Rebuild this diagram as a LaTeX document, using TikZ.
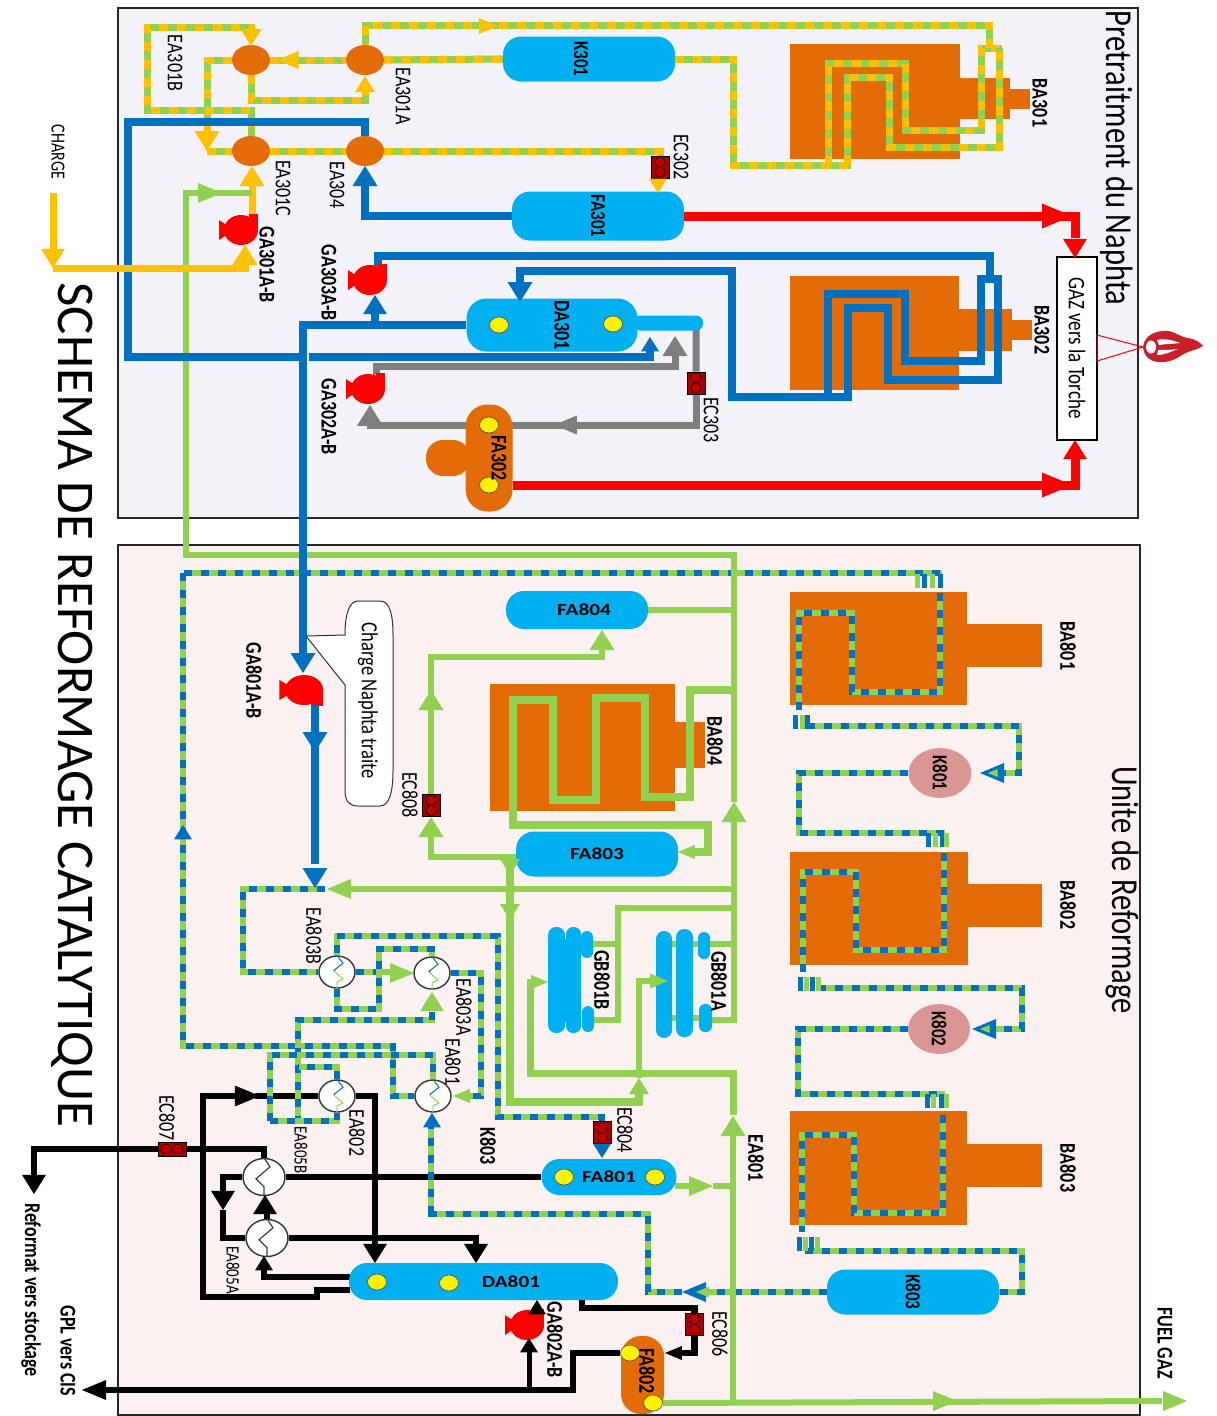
\documentclass[tikz,border=0pt]{standalone}
\usepackage{fontspec}
\setmainfont{Carlito}
\usetikzlibrary{shapes.geometric,backgrounds}
\definecolor{pblue}{HTML}{0070C0}
\definecolor{pcyan}{HTML}{00B0F0}
\definecolor{pgreen}{HTML}{92D050}
\definecolor{pyellow}{HTML}{FFC000}
\definecolor{furnace}{HTML}{E36C09}
\definecolor{ecred}{HTML}{A80000}
\definecolor{pgray}{HTML}{7F7F7F}
\definecolor{kpink}{HTML}{D99694}
\definecolor{flamered}{HTML}{C8202A}
\definecolor{paneltop}{HTML}{F4F2F9}
\definecolor{panelbot}{HTML}{FAF1F0}
\newcommand{\vlbl}[1]{\rotatebox{-90}{\scalebox{1}[1.25]{#1}}}
\newcommand{\hlbl}[1]{\scalebox{1.25}[1]{#1}}
\newcommand{\tipat}[5]{\fill[#4,shift={(#1,#2)},rotate=#3] (0,0) -- ({-(0.8*abs(sin(#3))+1.2*abs(cos(#3)))*#5},0.5*#5) -- ({-(0.8*abs(sin(#3))+1.2*abs(cos(#3)))*#5},-0.5*#5) -- cycle;}
\tikzset{
    lbl/.style={inner sep=0pt,font=\fontsize{18}{18}\selectfont},
    lblb/.style={inner sep=0pt,font=\bfseries\fontsize{18}{18}\selectfont},
    vessel/.style={fill=pcyan,rectangle,rounded corners=18pt,inner sep=0pt,font=\bfseries\fontsize{17}{17}\selectfont},
    drum/.style={fill=furnace,ellipse,minimum width=38,minimum height=30,inner sep=0pt},
    ydot/.style={fill=yellow,draw=black!70,line width=.6pt,ellipse,minimum width=19,minimum height=16,inner sep=0pt},
    hx/.style={fill=white,draw=black!80,line width=1.4pt,ellipse,minimum width=36,minimum height=32,inner sep=0pt},
    hxbig/.style={hx,minimum width=42,minimum height=37},
    ecbox/.style={fill=ecred,draw=black,line width=.8pt,rectangle,minimum width=18,minimum height=22,inner sep=0pt},
    pipeY/.style={draw=pgreen,line width=7pt,postaction={draw=pyellow,dash pattern=on 9pt off 9pt}},
    pipeB/.style={draw=pgreen,line width=6.5pt,postaction={draw=pblue,dash pattern=on 8pt off 9pt}},
    pipeG/.style={draw=pgreen,line width=6pt},
    pipeL/.style={draw=pblue,line width=8pt},
    pipeK/.style={draw=black,line width=6.5pt},
    pipeA/.style={draw=pgray,line width=7pt},
    pipeR/.style={draw=red,line width=9pt},
    pipeO/.style={draw=pyellow,line width=7pt},
    pumpbody/.pic={
        \fill[red] (-21,-10) -- (-12,-4) -- (-12,4) -- (-21,10) -- cycle;
        \fill[red] (1,0) ellipse (17 and 15);
        \fill[red] (9,-16) rectangle (18,1);
    }
}
\begin{document}
\begin{tikzpicture}[x=1pt,y=-1pt]
    \useasboundingbox (0,0) rectangle (1216,1416);
    % panels and furnaces
    \begin{scope}[on background layer]
        \filldraw[fill=paneltop,draw=black!85,line width=2pt] (118,8) rectangle (1138,518);
        \filldraw[fill=panelbot,draw=black!85,line width=2pt] (118,545) rectangle (1140,1415);
        \fill[furnace] (790,44) rectangle (960,159);
        \fill[furnace] (960,78) rectangle (1010,119);
        \fill[furnace] (1010,89) rectangle (1030,109);
        \fill[furnace] (790,276) rectangle (959,390);
        \fill[furnace] (959,309) rectangle (1012,351);
        \fill[furnace] (1012,320) rectangle (1032,340);
        \fill[furnace] (790,592) rectangle (967,705);
        \fill[furnace] (967,624) rectangle (1042,667);
        \fill[furnace] (790,852) rectangle (968,965);
        \fill[furnace] (968,884) rectangle (1042,927);
        \fill[furnace] (790,1111) rectangle (967,1225);
        \fill[furnace] (967,1144) rectangle (1042,1187);
        \fill[furnace] (490,684) rectangle (675,811);
        \fill[furnace] (675,722) rectangle (705,768);
    \end{scope}
    % drums and vessels
    \node[drum] (EA301B) at (251,60) {};
    \node[drum] (EA301A) at (365,60) {};
    \node[drum] (EA301C) at (251,151) {};
    \node[drum] (EA304) at (365,151) {};
    \node[vessel,minimum width=172,minimum height=45] (K301) at (589,59) {\hspace{-16pt}\vlbl{K301}};
    \node[vessel,minimum width=172,minimum height=49] (FA301) at (598,216) {\vlbl{FA301}};
    \node[vessel,rounded corners=7pt,minimum width=70,minimum height=15] (DA301tail) at (668,323) {};
    \node[vessel,rounded corners=20pt,minimum width=171,minimum height=53] (DA301) at (552,325) {};
    \node[lblb] (lblDA301) at (562,325) {\vlbl{DA301}};
    \node[ydot] (DA301a) at (499,325) {};
    \node[ydot] (DA301b) at (613,324) {};
    \fill[furnace,rounded corners=17pt] (470,440) rectangle (426,476);
    \node[fill=furnace,rectangle,rounded corners=22pt,minimum width=47,minimum height=107,inner sep=0pt] (FA302) at (489,458) {};
    \node[ydot] (FA302a) at (489,425) {};
    \node[ydot] (FA302b) at (489,485) {};
    \node[lblb] (lblFA302) at (499,458) {\vlbl{FA302}};
    \node[fill=white,draw=black,line width=2pt,rectangle,minimum width=40,minimum height=183,inner sep=0pt,font=\fontsize{19}{19}\selectfont] (GAZ) at (1077,348) {\vlbl{GAZ vers la Torche}};
    \node[vessel,minimum width=142,minimum height=38] (FA804) at (577,610) {\hspace{14pt}\hlbl{FA804}};
    \node[vessel,minimum width=162,minimum height=45] (FA803) at (597,854) {\hlbl{FA803}\hspace{6pt}};
    \node[vessel,minimum width=135,minimum height=36] (FA801) at (609,1177) {\hlbl{FA801}};
    \node[ydot] (FA801a) at (564,1177) {};
    \node[ydot] (FA801b) at (655,1177) {};
    \node[vessel,minimum width=269,minimum height=37] (DA801) at (483.5,1281.5) {\hspace{55pt}\hlbl{DA801}};
    \node[ydot] (DA801a) at (377,1282) {};
    \node[ydot] (DA801b) at (449,1283) {};
    \node[fill=furnace,rectangle,rounded corners=20pt,minimum width=43,minimum height=78,inner sep=0pt] (FA802) at (642.5,1375) {};
    \node[ydot] (FA802a) at (630,1353) {};
    \node[ydot] (FA802b) at (653,1403) {};
    \node[lblb] (lblFA802) at (647,1371) {\vlbl{FA802}};
    \node[fill=kpink,ellipse,minimum width=63,minimum height=46,inner sep=0pt,font=\bfseries\fontsize{17}{17}\selectfont] (K801) at (940,773) {\vlbl{K801}};
    \node[fill=kpink,ellipse,minimum width=62,minimum height=46,inner sep=0pt,font=\bfseries\fontsize{17}{17}\selectfont] (K802) at (939,1029) {\vlbl{K802}};
    \node[vessel,minimum width=172,minimum height=45] (K803) at (913,1292) {\vlbl{K803}};
    % air coolers
    \node[vessel,rounded corners=8pt,minimum width=17,minimum height=106] (GBb1) at (556.5,980) {};
    \node[vessel,rounded corners=7pt,minimum width=15,minimum height=106] (GBb2) at (573.5,980) {};
    \fill[pcyan] (548,939) rectangle (581,1022);
    \node[vessel,rounded corners=6pt,minimum width=12,minimum height=27] (GBb3) at (587,944.5) {};
    \node[vessel,rounded corners=6pt,minimum width=12,minimum height=26] (GBb4) at (588,1019) {};
    \node[vessel,rounded corners=8pt,minimum width=16,minimum height=107] (GBa1) at (664,984.5) {};
    \node[vessel,rounded corners=8pt,minimum width=17,minimum height=108] (GBa2) at (684.5,983) {};
    \node[vessel,rounded corners=6pt,minimum width=12,minimum height=27] (GBa3) at (704,945.5) {};
    \node[vessel,rounded corners=6pt,minimum width=13,minimum height=28] (GBa4) at (705.5,1018) {};
    % valves
    \node[ecbox] (EC302) at (660,167) {};
    \node[ecbox] (EC303) at (696,383) {};
    \node[ecbox] (EC808) at (431,805.5) {};
    \node[ecbox] (EC804) at (602,1132.5) {};
    \node[ecbox] (EC806) at (694.5,1324) {};
    \node[ecbox,minimum width=28,minimum height=14] (EC807) at (172,1149) {};
    \foreach \valve in {EC302,EC303,EC808,EC804,EC806} {
        \draw[fill=red!75!black,draw=black] (\valve.center) ++(0,-5) circle (5);
        \draw[fill=red!75!black,draw=black] (\valve.center) ++(0,5) circle (5);
    }
    \draw[fill=red!75!black,draw=black] (EC807.center) ++(-6,0) circle (5);
    \draw[fill=red!75!black,draw=black] (EC807.center) ++(6,0) circle (5);
    % exchangers
    \node[hx] (hxEA803B) at (337,972) {};
    \node[hx] (hxEA803A) at (432,973) {};
    \node[hx] (hxEA802) at (337,1096) {};
    \node[hx] (hxEA801) at (433,1096) {};
    \node[hxbig] (hxEA805B) at (264,1177) {};
    \node[hxbig] (hxEA805A) at (267,1238) {};
    \foreach \hxname in {hxEA803B,hxEA803A,hxEA802,hxEA801} {
        \draw[pblue,line width=1pt] (\hxname.north) -- ++(6,8) -- ++(-9,7) -- ++(1,1);
        \draw[pgreen,line width=1pt] (\hxname.center) ++(-2,0) -- ++(8,7) -- ++(-6,3) -- (\hxname.south);
    }
    \foreach \hxname in {hxEA805B,hxEA805A} {
        \draw[black!75,line width=1.2pt] (\hxname.north) -- ++(6,9) -- ++(-14,12) -- ++(8,8) -- (\hxname.south);
    }
    % yellow pipes
    \begin{scope}[on background layer]
        \draw[pipeY] (EA301A.east) -- (K301.west);
        \draw[pipeY] (K301.east) -- (733,59) -- (733,165) -- (851,165);
        \draw[pipeY] (828,165) -- (828,63) -- (905,63) -- (905,130) -- (981,130) -- (981,48) -- (1002,48);
        \draw[pipeY] (847,165) -- (847,77) -- (889,77) -- (889,147) -- (999,147) -- (999,48);
        \draw[pipeY] (989,48) -- (989,25) -- (365,25) -- (EA301A.north);
        \draw[pipeY] (EA301B.east) -- (EA301A.west);
        \draw[pipeY] (EA301B.west) -- (207,60) -- (207,131);
        \draw[pipeY] (207,151) -- (EA301C.west);
        \draw[pipeY] (EA301C.east) -- (EA304.west);
        \draw[pipeY] (EA304.east) -- (660,151) -- (EC302.north);
        \draw[pipeY] (251,34) -- (251,27) -- (147,27) -- (147,110) -- (251,110) -- (EA301C.north);
        \draw[pipeY] (EA301B.south) -- (251,100) -- (365,100) -- (365,91);
        % dashed blue pipes
        \draw[pipeB] (184,573) -- (942,573);
        \draw[pipeB] (183,573) -- (183,1046) -- (393,1046) -- (393,1096) -- (hxEA801.west);
        \draw[pipeB] (940,593) -- (940,692) -- (852,692) -- (852,613) -- (799,613) -- (799,710);
        \draw[pipeB] (807,726) -- (1019,726) -- (1019,773) -- (997,773);
        \draw[pipeB] (K801.west) -- (799,773) -- (799,833) -- (945,833);
        \draw[pipeB] (944,853) -- (944,950) -- (856,950) -- (856,872) -- (803,872) -- (803,972);
        \draw[pipeB] (818,988) -- (1022,988) -- (1022,1029) -- (995,1029);
        \draw[pipeB] (K802.west) -- (798,1029) -- (798,1094) -- (945,1094);
        \draw[pipeB] (943,1115) -- (943,1213) -- (854,1213) -- (854,1135) -- (802,1135) -- (802,1232);
        \draw[pipeB] (805,1251) -- (1022,1251) -- (1022,1292) -- (K803.east);
        \draw[pipeB] (K803.west) -- (700,1292);
        \draw[pipeB] (682,1292) -- (648,1292) -- (648,1214) -- (431,1214) -- (431,1127);
        \foreach \stubx/\stuby/\stubc in {917/574/pgreen,924/574/pblue,932/574/pgreen,940/574/pblue,
                795/715/pblue,802/715/pgreen,807/715/pblue,
                928/833/pblue,935/833/pgreen,942/833/pblue,946/833/pgreen,
                800/977/pblue,806/977/pgreen,812/977/pblue,818/977/pgreen,
                927/1094/pblue,933/1094/pgreen,941/1094/pblue,946/1094/pgreen,
                799/1237/pblue,805/1237/pgreen,811/1237/pblue,817/1237/pgreen} {
            \draw[\stubc,line width=5pt] (\stubx,\stuby) -- ++(0,14);
        }
        \draw[pipeB] (EC804.north) -- (602,1117) -- (498,1117) -- (498,936) -- (337,936) -- (hxEA803B.north);
        \draw[pipeB] (EC804.south) -- (602,1146);
        \draw[pipeB] (325,889) -- (243,889) -- (243,972) -- (hxEA803B.west);
        \draw[pipeB] (hxEA803B.east) -- (392,972);
        \draw[pipeB] (hxEA803B.south) -- (337,1009) -- (379,1009) -- (379,949) -- (432,949) -- (hxEA803A.north);
        \draw[pipeB] (hxEA803A.east) -- (481,973) -- (481,1096) -- (470,1096);
        % black pipes
        \draw[pipeK] (350,1290) -- (317,1290) -- (317,1297) -- (203,1297) -- (203,1096) -- (237,1096);
        \draw[pipeK] (255,1096) -- (hxEA802.west);
        \draw[pipeK] (hxEA802.east) -- (375,1096) -- (375,1246);
        \draw[pipeK] (hxEA805B.east) -- (FA801.west);
        \draw[pipeK] (hxEA805A.east) -- (476,1238) -- (476,1246);
        \draw[pipeK] (hxEA805B.north) -- (264,1149) -- (EC807.east);
        \draw[pipeK] (EC807.west) -- (34,1149) -- (34,1176);
        \draw[pipeK] (hxEA805B.west) -- (223,1177) -- (223,1194);
        \draw[pipeK] (223,1210) -- (223,1238) -- (hxEA805A.west);
        \draw[pipeK] (hxEA805A.north) -- (267,1212);
        \draw[pipeK] (264,1269) -- (264,1277) -- (350,1277);
        \draw[pipeK] (582,1300) -- (582,1308) -- (694.5,1308) -- (EC806.north);
        \draw[pipeK] (EC806.south) -- (694.5,1353) -- (677,1353);
        \draw[pipeK] (FA802a.west) -- (573,1353) -- (573,1390) -- (106,1390);
        \draw[pipeK,line width=5pt] (529,1390) -- (529,1350);
        % dashed pipes over the black ones
        \draw[pipeB] (432,1012) -- (432,1020) -- (298,1020) -- (298,1120);
        \draw[pipeB] (270,1121) -- (337,1121) -- (hxEA802.south);
        \draw[pipeB] (270,1121) -- (270,1055) -- (433,1055) -- (hxEA801.north);
        \draw[pipeB] (hxEA802.north) -- (337,1067) -- (298,1067);
        \draw[pipeB] (431,1214) -- (431,1127);
        % green pipes
        \draw[pipeG] (247,193) -- (186,193) -- (186,555) -- (734,555) -- (734,802);
        \draw[pipeG] (FA804.east) -- (734,610);
        \draw[pipeG] (FA803.west) ++(0,3) -- (431,857) -- (431,835);
        \draw[pipeG] (EC808.north) -- (431,657) -- (602,657) -- (602,649);
        \draw[pipeG,line width=8pt] (695,852) -- (708,852) -- (708,825) -- (513,825) -- (513,700) -- (553,700) -- (553,800) -- (596,800) -- (596,698) -- (645,698) -- (645,797) -- (690,797) -- (690,690) -- (734,690);
        \draw[pipeG] (734,889) -- (344,889);
        \draw[pipeG,line width=8pt] (510,857) -- (510,1102) -- (639,1102) -- (639,1091);
        \draw[pipeG] (639,1078) -- (639,981) -- (650,981);
        \draw[pipeG] (734,908) -- (618,908) -- (618,1020) -- (593,1020);
        \draw[pipeG] (618,944) -- (593,944);
        \draw[pipeG] (734,818) -- (734,1020) -- (712,1020);
        \draw[pipeG] (734,944) -- (710,944);
        \draw[pipeG] (698,944) -- (672,944);
        \draw[pipeG] (699,1018) -- (672,1018);
        \draw[pipeG,line width=7pt] (733,1115) -- (733,1073) -- (530,1073) -- (530,982) -- (533,982);
        \draw[pipeG] (733,1135) -- (733,1402);
        \draw[pipeG] (FA802b.east) -- (1162,1401);
        \draw[pipeG] (FA801.east) ++(-2,9) -- (692,1186);
        \draw[pipeG] (713,1186) -- (733,1186);
        % blue pipes
        \draw[pipeL] (EA304.north) -- (365,122) -- (128,122) -- (128,357) -- (299,357);
        \draw[pipeL] (309,357) -- (650,357) -- (650,351);
        \draw[pipeL] (FA301.west) -- (365,216) -- (365,185);
        \draw[pipeL] (DA301.west) -- (303,325) -- (303,656);
        \draw[pipeL] (375,325) -- (375,314);
        \draw[pipeL] (378,266) -- (378,256) -- (990,256) -- (990,280);
        \draw[pipeL] (520,282) -- (520,271) -- (732,271) -- (732,397) -- (848,397) -- (848,308) -- (888,308) -- (888,380) -- (998,380) -- (998,279) -- (981,279) -- (981,361) -- (905,361) -- (905,294) -- (828,294) -- (828,397);
        \draw[pipeL] (315,700) -- (315,864);
        % gray pipes
        \draw[pipeA] (DA301tail.east) ++(-7,0) -- (EC303.north);
        \draw[pipeA] (EC303.south) -- (696,425) -- (370,425) -- (370,414);
        \draw[pipeA] (376,375) -- (376,366) -- (675,366) -- (675,355);
        % red pipes
        \draw[pipeR] (FA301.east) -- (1075,216) -- (1075,238);
        \draw[pipeR] (FA302.east |- FA302b) -- (1075,485) -- (1075,459);
        % charge
        \draw[pipeO] (53,193) -- (53,250);
        \draw[pipeO] (53,268) -- (245,268) -- (245,262);
        \draw[pipeO] (252,214) -- (252,186);
        \draw[pipeG] (252,193) -- (247,193);
    \end{scope}
    % pumps
    \coordinate (GA301) at (240,230);
    \coordinate (GA303) at (369,280);
    \coordinate (GA302) at (367,389);
    \coordinate (GA801) at (303,690);
    \coordinate (GA802) at (526,1325);
    \pic at (GA301) {pumpbody};
    \pic at (GA303) {pumpbody};
    \pic at (GA302) {pumpbody};
    \pic[yscale=-1,xscale=1.12] at (GA801) {pumpbody};
    \pic at (GA802) {pumpbody};
    % arrow heads, top
    \tipat{251}{46}{-90}{pyellow}{21}
    \tipat{365}{76}{90}{pyellow}{20}
    \tipat{277}{60}{180}{pyellow}{18}
    \tipat{207}{151}{-90}{pyellow}{25}
    \tipat{498}{26}{0}{pyellow}{16}
    \tipat{658}{193}{-90}{pyellow}{18}
    \tipat{252}{166}{90}{pyellow}{25}
    \tipat{245}{245}{90}{pyellow}{25}
    \tipat{53}{268}{-90}{pyellow}{24}
    \tipat{222}{193}{0}{pgreen}{20}
    \tipat{365}{166}{90}{pblue}{25}
    \tipat{375}{295}{90}{pblue}{24}
    \tipat{520}{302}{-90}{pblue}{25}
    \tipat{650}{337}{90}{pblue}{18}
    \tipat{675}{336}{90}{pgray}{25}
    \tipat{370}{405}{90}{pgray}{26}
    \tipat{554}{425}{180}{pgray}{19}
    \tipat{1072}{216}{0}{red}{25}
    \tipat{1075}{258}{-90}{red}{24}
    \tipat{1072}{485}{0}{red}{25}
    \tipat{1075}{440}{90}{red}{24}
    % arrow heads, bottom
    \tipat{303}{673}{-90}{pblue}{25}
    \tipat{315}{752}{-90}{pblue}{25}
    \tipat{315}{888}{-90}{pblue}{25}
    \tipat{183}{825}{90}{pblue}{18}
    \tipat{327}{889}{180}{pgreen}{20}
    \tipat{602}{630}{90}{pgreen}{25}
    \tipat{431}{690}{90}{pgreen}{25}
    \tipat{431}{817}{90}{pgreen}{25}
    \tipat{678}{852}{180}{pgreen}{14}
    \tipat{734}{802}{90}{pgreen}{25}
    \tipat{510}{875}{-90}{pgreen}{20}
    \tipat{510}{920}{-90}{pgreen}{20}
    \tipat{548}{982}{0}{pgreen}{14}
    \tipat{668}{981}{0}{pgreen}{15}
    \tipat{639}{1078}{90}{pgreen}{20}
    \tipat{733}{1116}{90}{pgreen}{25}
    \tipat{713}{1186}{0}{pgreen}{20}
    \tipat{957}{1401}{0}{pgreen}{20}
    \tipat{1187}{1401}{0}{pgreen}{20}
    \tipat{414}{973}{0}{pgreen}{20}
    \tipat{453}{1096}{180}{pgreen}{14}
    \tipat{432}{992}{90}{pgreen}{24}
    \tipat{432}{1113}{90}{pblue}{18}
    \tipat{602}{1158}{-90}{pblue}{18}
    \tipat{980}{773}{180}{pblue}{20}
    \tipat{988}{773}{180}{pgreen}{8}
    \tipat{972}{1029}{180}{pblue}{20}
    \tipat{980}{1029}{180}{pgreen}{8}
    \tipat{682}{1292}{180}{pblue}{20}
    \tipat{696}{1292}{180}{pgreen}{11}
    \tipat{260}{1096}{0}{black}{21}
    \tipat{375}{1263}{-90}{black}{24}
    \tipat{476}{1263}{-90}{black}{24}
    \tipat{34}{1194}{-90}{black}{24}
    \tipat{223}{1210}{-90}{black}{24}
    \tipat{265}{1195}{90}{black}{24}
    \tipat{264}{1256}{90}{black}{18}
    \tipat{665}{1353}{180}{black}{14}
    \tipat{82}{1390}{180}{black}{20}
    \tipat{529}{1338}{90}{black}{18}
    \tipat{537}{1300}{90}{black}{18}
    % callout
    \filldraw[fill=white,draw=black!80,line width=1pt] (345,635) -- (306,636) -- (345,685) -- (345,790)
        .. controls (345,802) and (350,806) .. (358,806) -- (380,806)
        .. controls (390,806) and (393,790) .. (393,770) -- (393,635)
        .. controls (393,615) and (390,601) .. (380,601) -- (358,601)
        .. controls (350,601) and (345,612) .. (345,635) -- cycle;
    \node[lbl,font=\fontsize{18.5}{19}\selectfont] (lblCharge) at (368,701) {\vlbl{Charge Naphta traite}};
    % flame
    \draw[red,line width=1pt] (1097,335) -- (1143,347) -- (1097,361) -- cycle;
    \fill[flamered] (1143,347) .. controls (1144,336) and (1155,330) .. (1168,331) .. controls (1176,332) and (1180,337) .. (1188,338)
        .. controls (1195,339) and (1200,342) .. (1203,346) .. controls (1197,350) and (1192,350) .. (1188,352)
        .. controls (1180,355) and (1176,361) .. (1164,362) .. controls (1152,363) and (1144,358) .. (1143,347) -- cycle;
    \fill[white] (1151,347) ellipse (5 and 6.5);
    \fill[white] (1157,340) .. controls (1165,338) and (1172,340) .. (1180,343) .. controls (1172,344) and (1165,344) .. (1159,345) -- cycle;
    \fill[white] (1158,350) .. controls (1164,350) and (1170,350) .. (1178,349) .. controls (1170,352) and (1165,355) .. (1157,355) -- cycle;
    % labels
    \node[inner sep=0pt,font=\fontsize{53}{53}\selectfont] (title) at (72,705) {\rotatebox{-90}{SCHEMA DE REFORMAGE CATALYTIQUE}};
    \node[inner sep=0pt,font=\fontsize{30.5}{31}\selectfont] (titleTop) at (1117,158) {\vlbl{Pretraitment du Naphta}};
    \node[inner sep=0pt,font=\fontsize{30.5}{31}\selectfont] (titleBot) at (1122,890) {\vlbl{Unite de Reformage}};
    \node[lbl,font=\fontsize{16}{16}\selectfont] (lblCHARGE) at (58,152) {\vlbl{CHARGE}};
    \foreach \lblname/\lblx/\lbly in {EA301B/175/63,EA301A/403/96,EA301C/283/188,EA304/337/185,EC302/681/157,EC303/711/420,
            EC808/410/795,EA803B/314/936,EA803A/464/1007,EA802/357/1133,EC807/167/1118,EC804/625/1130,EC806/720/1334} {
        \node[lbl] (lbl\lblname) at (\lblx,\lbly) {\vlbl{\lblname}};
    }
    \node[lbl] (lblEA801s) at (453,1062) {\vlbl{EA801}};
    \node[lbl,font=\fontsize{15}{15}\selectfont] (lblEA805B) at (301,1150) {\vlbl{EA805B}};
    \node[lbl,font=\fontsize{15}{15}\selectfont] (lblEA805A) at (233,1270) {\vlbl{EA805A}};
    \foreach \lblname/\lblx/\lbly in {BA301/1040/103,BA302/1042/330,BA801/1068/646,BA802/1068/905,BA803/1068/1168,BA804/715/741,
            GA301A-B/267/265,GA303A-B/329/283,GA302A-B/329/417,GA801A-B/254/681,GA802A-B/555/1340,
            GB801B/602/980,GB801A/719/981,K803/488/1146,FUEL GAZ/1165/1343} {
        \node[lblb] at (\lblx,\lbly) {\vlbl{\lblname}};
    }
    \node[lblb] (lblEA801) at (756,1158) {\vlbl{EA801}};
    \node[lblb] (lblReformat) at (31,1290) {\vlbl{Reformat vers stockage}};
    \node[lblb] (lblGPL) at (68,1351) {\vlbl{GPL vers CIS}};
\end{tikzpicture}
\end{document}
